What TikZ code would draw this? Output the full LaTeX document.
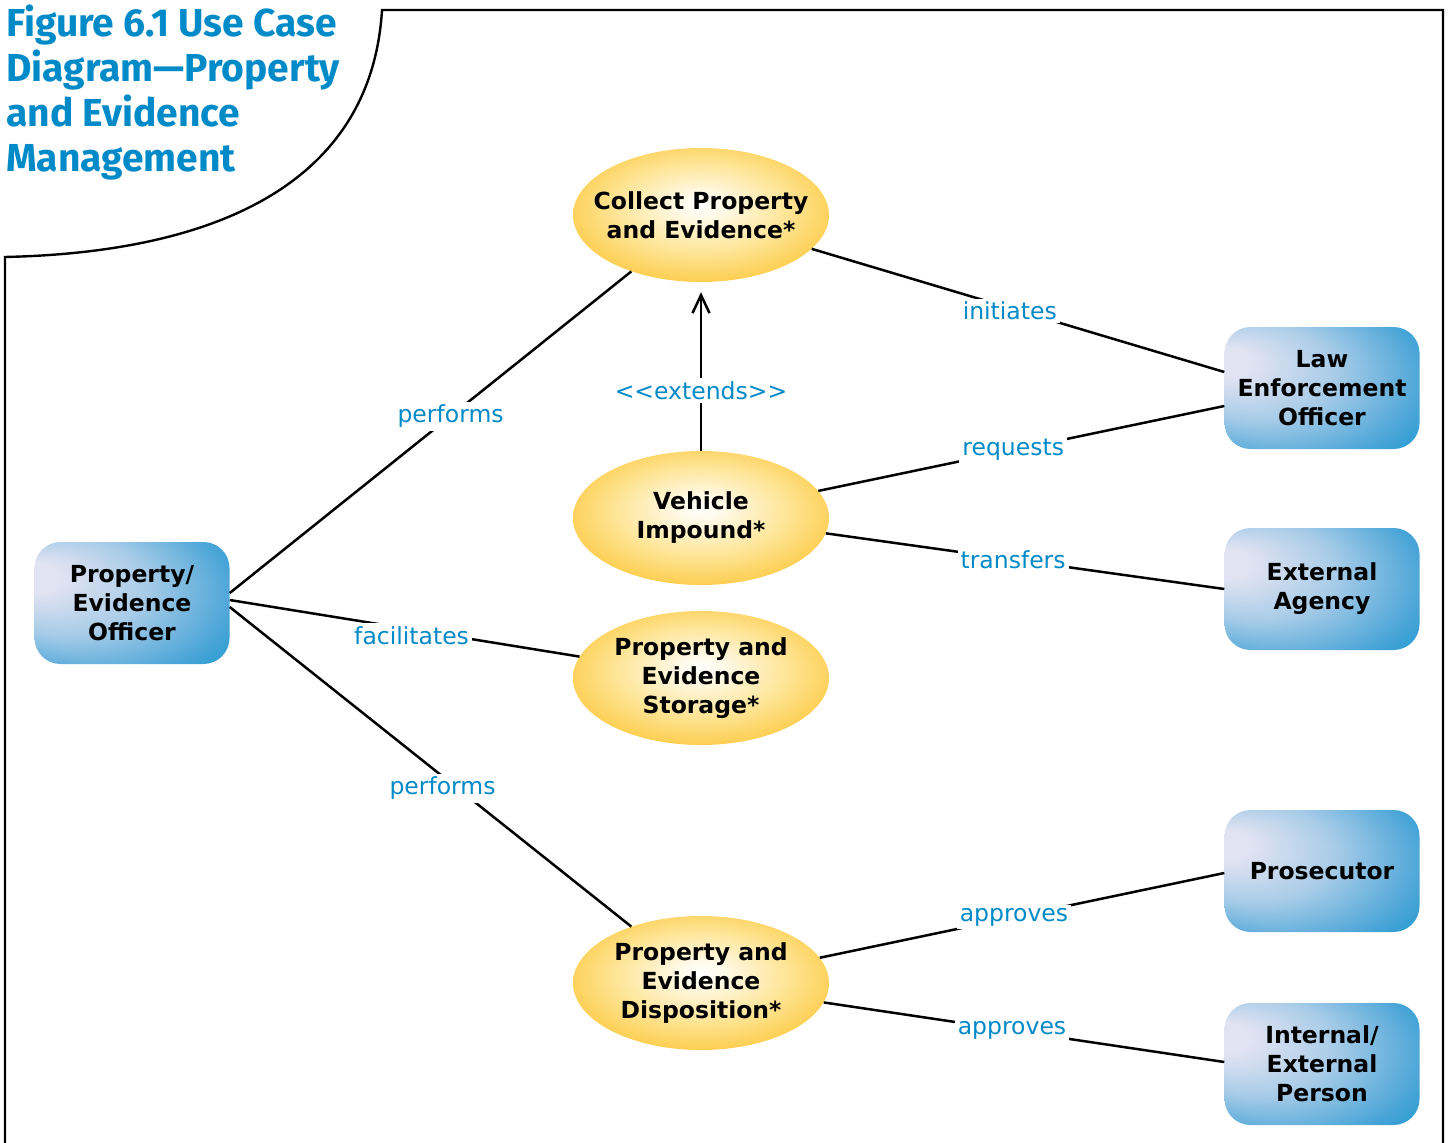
\documentclass[tikz,border=0pt]{standalone}
\usepackage{fontspec}
\setmainfont{DejaVu Sans}
\newfontfamily\titlefont{Fira Sans}
\usetikzlibrary{shapes.geometric,arrows.meta,calc}
\definecolor{lblue}{RGB}{0,138,200}
\definecolor{bc0}{RGB}{226,227,242}
\definecolor{bc1}{RGB}{168,204,232}
\definecolor{bc2}{RGB}{72,164,215}
\definecolor{bc3}{RGB}{6,148,206}
\definecolor{uc0}{RGB}{255,250,235}
\definecolor{uc1}{RGB}{254,230,155}
\definecolor{uc2}{RGB}{252,200,60}
\definecolor{uc3}{RGB}{249,186,28}
\pgfdeclareradialshading{actorshade}{\pgfpoint{-28bp}{12bp}}{color(0bp)=(bc0); color(6bp)=(bc0); color(20bp)=(bc1); color(35bp)=(bc2); color(46bp)=(bc3); color(50bp)=(bc3)}
\pgfdeclareradialshading{ucshade}{\pgfpoint{0bp}{4bp}}{color(0bp)=(white); color(4bp)=(uc0); color(16bp)=(uc1); color(30bp)=(uc2); color(42bp)=(uc3); color(50bp)=(uc3)}
\tikzset{
  usecase/.style={ellipse, shading=ucshade, minimum width=256pt, minimum height=134pt, inner sep=0pt, align=center, font=\bfseries\fontsize{23.5}{29}\selectfont},
  actor/.style={rectangle, rounded corners=26pt, shading=actorshade, minimum width=195pt, minimum height=122pt, inner sep=0pt, align=center, font=\bfseries\fontsize{23.5}{29}\selectfont},
  conn/.style={line width=2.5pt, black},
  lbl/.style={fill=white, text=lblue, inner sep=3pt, font=\fontsize{23.5}{28}\selectfont},
  titletxt/.style={anchor=base west, inner sep=0pt, text=lblue, font=\titlefont\bfseries\fontsize{39}{45}\selectfont},
  frame/.style={line width=2.4pt, black}
}
\begin{document}
\begin{tikzpicture}[x=1pt,y=-1pt]
\useasboundingbox (0,0) rectangle (1449,1143);
% frame
\draw[frame] (5,1150) -- (5,257) .. controls (230,252) and (372,175) .. (382,10) -- (1443,10) -- (1443,1150);
% title
\node[titletxt] (t1) at (6,36) {Figure 6.1 Use Case};
\node[titletxt] (t2) at (6,81) {Diagram—Property};
\node[titletxt] (t3) at (6,126) {and Evidence};
\node[titletxt] (t4) at (6,171) {Management};
% use cases
\node[usecase, inner xsep=-22pt] (col) at (701,215) {Collect Property\\and Evidence*};
\node[usecase] (veh) at (701,518) {Vehicle\\Impound*};
\node[usecase] (sto) at (701,678) {Property and\\Evidence\\Storage*};
\node[usecase] (dis) at (701,983) {Property and\\Evidence\\Disposition*};
% actors
\node[actor] (peo) at (132,603) {Property/\\Evidence\\Officer};
\node[actor] (leo) at (1322,388) {Law\\Enforcement\\Officer};
\node[actor] (ext) at (1322,589) {External\\Agency};
\node[actor] (pro) at (1322,871) {Prosecutor};
\node[actor] (ine) at (1322,1064) {Internal/\\External\\Person};
% connectors
\draw[conn] ($(peo.east)+(0,-10)$) -- node[lbl,pos=.55] {performs} (col.219);
\draw[conn] ($(peo.east)+(0,-3)$) -- node[lbl,pos=.52,yshift=-6pt] {facilitates} (sto.170.6);
\draw[conn] ($(peo.east)+(0,4)$) -- node[lbl,pos=.53,yshift=-12pt] {performs} (dis.141);
\draw[conn] (col.343) -- node[lbl,pos=.48,yshift=-3pt] {initiates} ($(leo.west)+(0,-16)$);
\draw[conn] (veh.13) -- node[lbl,pos=.48] {requests} ($(leo.west)+(0,18)$);
\draw[conn] (veh.353) -- node[lbl,pos=.47] {transfers} (ext.west);
\draw[conn] (dis.12.5) -- node[lbl,pos=.48] {approves} ($(pro.west)+(0,2)$);
\draw[conn] (dis.351) -- node[lbl,pos=.47] {approves} ($(ine.west)+(0,-2)$);
\draw[conn, -{Straight Barb[length=18pt,width=17pt]}, shorten >=10pt] (veh.north) -- node[lbl,pos=.375,yshift=-3pt] {<{}<extends>{}>} (col.south);
\end{tikzpicture}
\end{document}
